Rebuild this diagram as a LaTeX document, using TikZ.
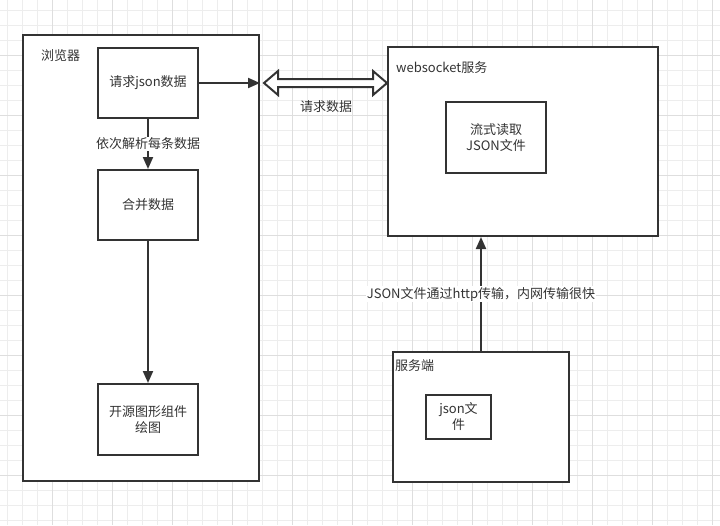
\documentclass[tikz,border=0pt]{standalone}
\usepackage{fontspec}
\setmainfont{Noto Sans CJK SC}
\usepackage{tikz}
\usetikzlibrary{calc}
\usetikzlibrary{positioning}
\usetikzlibrary{arrows.meta}
\definecolor{ink}{HTML}{333333}
\definecolor{gridminor}{HTML}{EDEDED}
\definecolor{gridmajor}{HTML}{DEDEDE}

\begin{document}
\begin{tikzpicture}[x=1pt,y=-1pt,font=\fontsize{13}{16}\selectfont,text=ink]
\tikzstyle{container}=[rectangle,draw=ink,line width=2pt,fill=white]
\tikzstyle{box}=[rectangle,align=center,draw=ink,line width=2pt,fill=white,inner sep=2pt]
\tikzstyle{caption}=[anchor=north west,inner sep=0pt]
\tikzstyle{flow}=[draw=ink,line width=2pt,-{Triangle[length=12pt,width=10pt]}]
\tikzstyle{tag}=[fill=white,inner sep=1pt]
\tikzstyle{hollow}=[draw=ink,line width=2pt,fill=white,line join=miter]
\useasboundingbox (0,0) rectangle (720,525);
\fill[white] (0,0) rectangle (720,525);
\foreach \gx in {7,22,...,720} \draw[gridminor,line width=0.8pt] (\gx,0) -- (\gx,525);
\foreach \gy in {10,25,...,525} \draw[gridminor,line width=0.8pt] (0,\gy) -- (720,\gy);
\foreach \gx in {52,112,...,720} \draw[gridmajor,line width=1pt] (\gx,0) -- (\gx,525);
\foreach \gy in {55,115,...,525} \draw[gridmajor,line width=1pt] (0,\gy) -- (720,\gy);

\node[container,minimum width=236,minimum height=446] at(141, 258) (browser) {};
\node[caption] at(41, 49) (browsertitle) {浏览器};
\node[container,minimum width=270,minimum height=189] at(523, 141.5) (ws) {};
\node[caption] at(396, 61) (wstitle) {websocket服务};
\node[container,minimum width=176,minimum height=130] at(481, 417) (server) {};
\node[caption] at(395, 359) (servertitle) {服务端};

\node[box,minimum width=100,minimum height=70] at(148, 83) (req) {请求json数据};
\node[box,minimum width=100,minimum height=70] at(148, 205) (merge) {合并数据};
\node[box,minimum width=100,minimum height=71] at(148, 419.5) (render) {开源图形组件\\绘图};
\node[box,minimum width=100,minimum height=71] at(496, 137.5) (stream) {流式读取\\JSON文件};
\node[box,minimum width=65,minimum height=44] at(458.5, 417) (jsonfile) {json文\\件};

\draw[flow] (req.east) -- (req.east -| browser.east);
\draw[flow] (req.south) -- node[tag] (parse) {依次解析每条数据} (merge.north);
\draw[flow] (merge.south) -- (render.north);
\draw[flow] (server.north) -- node[tag] (transfer) {JSON文件通过http传输，内网传输很快} (server.north |- ws.south);

\coordinate (dl) at ([xshift=4]browser.east |- req.east);
\coordinate (dr) at (ws.west |- req.east);
\draw[hollow] (dl) -- ++(14,-12) -- ++(0,8) -- ($(dr)+(-14,-4)$) -- ++(0,-8) -- (dr)
  -- ++(-14,12) -- ++(0,-8) -- ($(dl)+(14,4)$) -- ++(0,8) -- cycle;
\node at(326, 107) (reqdata) {请求数据};
\end{tikzpicture}
\end{document}
